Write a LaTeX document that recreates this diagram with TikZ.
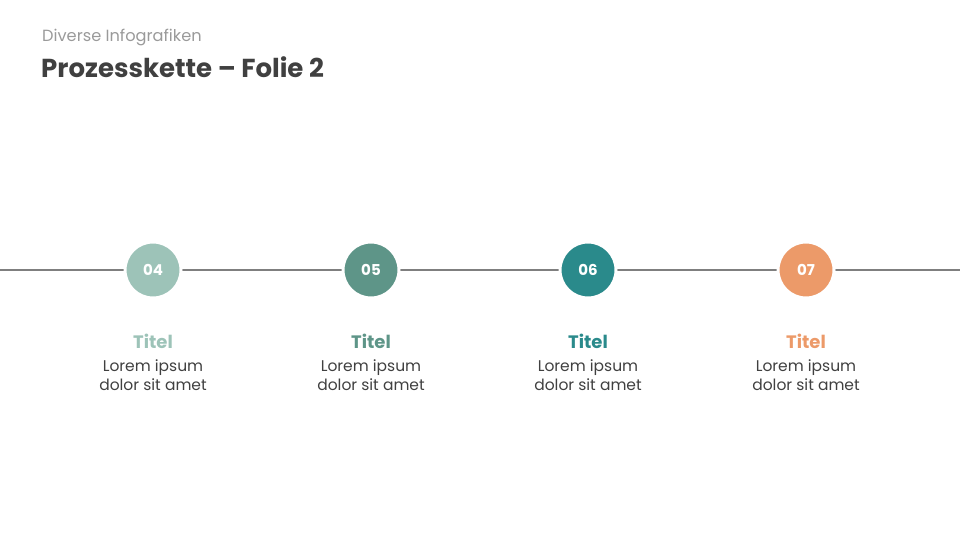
\documentclass[tikz,border=0pt]{standalone}
\usepackage{fontspec}
\setmainfont{Poppins}
\definecolor{cA}{HTML}{9DC3B8}
\definecolor{cB}{HTML}{5E9588}
\definecolor{cC}{HTML}{2A8A8B}
\definecolor{cD}{HTML}{EC9A69}
\definecolor{txt}{HTML}{404040}
\definecolor{sub}{HTML}{9A9A9A}
\definecolor{ln}{HTML}{7F7F7F}
\begin{document}
\begin{tikzpicture}[x=1pt,y=-1pt,
  stepcirc/.style={circle,minimum size=56pt,inner sep=0pt,draw=white,line width=3pt,text=white,font=\fontsize{15}{15}\selectfont\bfseries},
  steptitle/.style={font=\fontsize{18}{18}\selectfont\bfseries,anchor=base},
  stepbody/.style={font=\fontsize{15.5}{19}\selectfont,text=txt,align=center,anchor=north}]
\useasboundingbox (0,0) rectangle (960,540);
\node[anchor=base west,text=sub,font=\fontsize{16.2}{16}\selectfont,inner sep=0pt] (sub) at (42,42) {Diverse Infografiken};
\node[anchor=base west,text=txt,font=\fontsize{26}{26}\selectfont\bfseries,inner sep=0pt] (ttl) at (41,78) {Prozesskette – Folie 2};
\coordinate (L) at (0,270);
\coordinate (R) at (960,270);
\draw[ln,line width=1.4pt] (L) -- (R);
\foreach \n/\x/\c in {04/153/cA,05/371/cB,06/588/cC,07/806/cD}{
  \node[stepcirc,fill=\c] (c\n) at (\x,270) {\n};
  \node[steptitle,text=\c] (t\n) at (\x,348) {Titel};
  \node[stepbody] (b\n) at (\x,356) {Lorem ipsum\\dolor sit amet};
}
\end{tikzpicture}
\end{document}
